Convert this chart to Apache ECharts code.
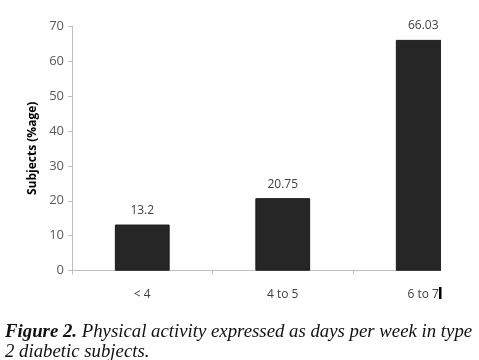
<!DOCTYPE html>
<html><head><meta charset="utf-8">
<script src="https://cdn.jsdelivr.net/npm/echarts@6/dist/echarts.min.js"></script>
<style>html,body{margin:0;padding:0;background:#fff}#c{width:479px;height:360px}</style>
</head><body><div id="c"></div>
<script>
var categories = ['< 4', '4 to 5', '6 to 7'];
var values = [13.2, 20.75, 66.03];
var valueLabels = ['13.2', '20.75', '66.03'];
var yTicks = [0, 10, 20, 30, 40, 50, 60, 70];
var yTitle = 'Subjects (%age)';
var captionBold = 'Figure 2.';
var captionLine1 = ' Physical activity expressed as days per week in type';
var captionLine2 = '2 diabetic subjects.';

var chart = echarts.init(document.getElementById('c'), null, {renderer: 'canvas'});
chart.setOption({
  animation: false,
  backgroundColor: '#fff',
  grid: {left: 72, top: 26, height: 244.7, width: 421.5, containLabel: false, outerBoundsMode: 'none'},
  xAxis: {
    type: 'category', data: categories,
    axisLine: {lineStyle: {color: '#bfbfbf', width: 1}},
    axisTick: {show: true, length: 4, alignWithLabel: false, lineStyle: {color: '#bfbfbf'}},
    axisLabel: {color: '#404040', fontFamily: 'Open Sans', fontSize: 12, margin: 18}
  },
  yAxis: {
    type: 'value', min: yTicks[0], max: yTicks[yTicks.length - 1], interval: 10,
    name: yTitle, nameLocation: 'middle', nameGap: 33, nameRotate: 90,
    nameTextStyle: {color: '#000', fontWeight: 'bold', fontFamily: 'Open Sans', fontSize: 12},
    axisLine: {show: true, lineStyle: {color: '#bfbfbf', width: 1}},
    axisTick: {show: true, length: 4, lineStyle: {color: '#bfbfbf'}},
    axisLabel: {color: '#595959', fontFamily: 'Open Sans', fontSize: 13, margin: 8},
    splitLine: {show: false}
  },
  series: [{
    type: 'bar', data: values, barWidth: '39%',
    itemStyle: {color: '#262626', borderColor: '#1a1a1a', borderWidth: 1},
    label: {show: true, position: 'top', distance: 8, color: '#404040', fontFamily: 'Open Sans', fontSize: 12,
      formatter: function (p) { return valueLabels[p.dataIndex]; }}
  }],
  graphic: [
    {type: 'rect', shape: {x: 441, y: 0, width: 40, height: 312}, style: {fill: '#fff'}, z: 100},
    {type: 'rect', shape: {x: 439, y: 287, width: 2.5, height: 12}, style: {fill: '#000'}, z: 101},
    {type: 'text', left: 5, top: 323, z: 102, style: {
      text: '{b|' + captionBold + '}{i|' + captionLine1 + '}\n{i|' + captionLine2 + '}',
      rich: {
        b: {fontFamily: 'Liberation Serif', fontStyle: 'italic', fontWeight: 'bold', fontSize: 18.8, fill: '#111', lineHeight: 20},
        i: {fontFamily: 'Liberation Serif', fontStyle: 'italic', fontSize: 18.8, fill: '#111', lineHeight: 20}
      }
    }}
  ]
});
</script></body></html>
